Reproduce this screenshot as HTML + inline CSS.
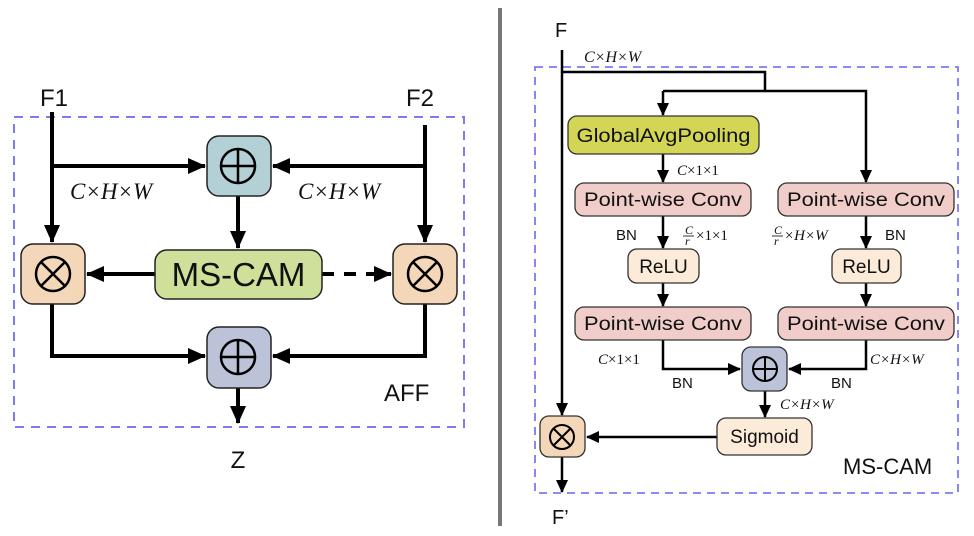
<!DOCTYPE html>
<html><head><meta charset="utf-8"><style>
html,body{margin:0;padding:0;background:#fff}
svg{display:block}
text{font-family:"Liberation Sans","DejaVu Sans",sans-serif;fill:#111}
.m{font-family:"Liberation Serif",serif;font-style:italic}
</style></head><body>
<svg width="974" height="536" viewBox="0 0 974 536" xmlns="http://www.w3.org/2000/svg">
<defs>
<marker id="aL" markerUnits="userSpaceOnUse" markerWidth="20" markerHeight="20" refX="17" refY="10" orient="auto"><path d="M0,2 L18,10 L0,18 z" fill="#000"/></marker>
<marker id="aS" markerUnits="userSpaceOnUse" markerWidth="14" markerHeight="14" refX="12" refY="7" orient="auto"><path d="M0,1 L13,7 L0,13 z" fill="#000"/></marker>
</defs>
<rect x="14" y="117" width="450" height="310" fill="none" stroke="#7b7bf0" stroke-width="2" stroke-dasharray="9,7"/>
<text x="40" y="106" font-size="24">F1</text>
<text x="406" y="106" font-size="24">F2</text>
<g stroke="#000" stroke-width="4" fill="none">
<line x1="52" y1="112" x2="52" y2="242" marker-end="url(#aL)"/>
<line x1="52" y1="166" x2="205" y2="166" marker-end="url(#aL)"/>
<line x1="425" y1="125" x2="425" y2="242" marker-end="url(#aL)"/>
<line x1="425" y1="166" x2="273" y2="166" marker-end="url(#aL)"/>
<line x1="238" y1="196" x2="238" y2="248" marker-end="url(#aL)"/>
<line x1="155" y1="274" x2="87" y2="274" marker-end="url(#aL)"/>
<line x1="322" y1="274" x2="391" y2="274" stroke-dasharray="12,10" marker-end="url(#aL)"/>
<polyline points="52,304 52,356 205,356" marker-end="url(#aL)"/>
<polyline points="425,304 425,356 273,356" marker-end="url(#aL)"/>
<line x1="238" y1="388" x2="238" y2="423" marker-end="url(#aL)"/>
</g>
<rect x="207" y="136" width="64" height="60" rx="12" fill="#b3d0d6" stroke="#222" stroke-width="1.5"/>
<rect x="155" y="250" width="167" height="49" rx="12" fill="#cfe09a" stroke="#222" stroke-width="1.5"/>
<rect x="21" y="244" width="64" height="60" rx="12" fill="#f4d7b8" stroke="#222" stroke-width="1.5"/>
<rect x="393" y="244" width="64" height="60" rx="12" fill="#f4d7b8" stroke="#222" stroke-width="1.5"/>
<rect x="207" y="327" width="64" height="61" rx="12" fill="#bcc2d8" stroke="#222" stroke-width="1.5"/>
<g stroke="#000" stroke-width="2.5" fill="none">
<circle cx="238" cy="166" r="17"/><line x1="221" y1="166" x2="255" y2="166"/><line x1="238" y1="149" x2="238" y2="183"/>
<circle cx="238" cy="357" r="17"/><line x1="221" y1="357" x2="255" y2="357"/><line x1="238" y1="340" x2="238" y2="374"/>
<circle cx="53" cy="274" r="17"/><line x1="41" y1="262" x2="65" y2="286"/><line x1="65" y1="262" x2="41" y2="286"/>
<circle cx="425" cy="274" r="17"/><line x1="413" y1="262" x2="437" y2="286"/><line x1="437" y1="262" x2="413" y2="286"/>
</g>
<text x="238.5" y="286" font-size="33" text-anchor="middle">MS-CAM</text>
<text x="70" y="199" font-size="23" class="m">C×H×W</text>
<text x="298" y="199" font-size="23" class="m">C×H×W</text>
<text x="384" y="401" font-size="24">AFF</text>
<text x="238" y="468" font-size="24" text-anchor="middle">Z</text>
<line x1="500" y1="8" x2="500" y2="526" stroke="#777" stroke-width="4"/>
<rect x="535" y="67" width="423" height="426" fill="none" stroke="#7b7bf0" stroke-width="1.8" stroke-dasharray="8,6"/>
<text x="555" y="37" font-size="20">F</text>
<text x="584" y="62" font-size="16" class="m">C×H×W</text>
<g stroke="#000" stroke-width="2.5" fill="none">
<line x1="562" y1="50" x2="562" y2="415" marker-end="url(#aS)"/>
<polyline points="562,72 765,72 765,91"/>
<polyline points="663,91 866,91 866,182" marker-end="url(#aS)"/>
<line x1="663" y1="154" x2="663" y2="182" marker-end="url(#aS)"/>
<line x1="663" y1="216" x2="663" y2="248" marker-end="url(#aS)"/>
<line x1="866" y1="216" x2="866" y2="248" marker-end="url(#aS)"/>
<line x1="663" y1="283" x2="663" y2="306" marker-end="url(#aS)"/>
<line x1="866" y1="283" x2="866" y2="306" marker-end="url(#aS)"/>
<polyline points="663,340 663,369 740,369" marker-end="url(#aS)"/>
<polyline points="866,340 866,369 789,369" marker-end="url(#aS)"/>
<line x1="765" y1="391" x2="765" y2="417" marker-end="url(#aS)"/>
<line x1="717" y1="437" x2="587" y2="437" marker-end="url(#aS)"/>
<line x1="562" y1="457" x2="562" y2="492" marker-end="url(#aS)"/>
</g>
<line x1="663" y1="91" x2="663" y2="115" stroke="#000" stroke-width="2.5" marker-end="url(#aS)"/>
<rect x="568" y="116" width="191" height="38" rx="9" fill="#d3d655" stroke="#333" stroke-width="1.3"/>
<rect x="575" y="183" width="176" height="33" rx="9" fill="#f0cdc8" stroke="#333" stroke-width="1.3"/>
<rect x="778" y="183" width="176" height="33" rx="9" fill="#f0cdc8" stroke="#333" stroke-width="1.3"/>
<rect x="628" y="249" width="71" height="34" rx="9" fill="#fcebd9" stroke="#333" stroke-width="1.3"/>
<rect x="832" y="249" width="69" height="34" rx="9" fill="#fcebd9" stroke="#333" stroke-width="1.3"/>
<rect x="575" y="307" width="176" height="33" rx="9" fill="#f0cdc8" stroke="#333" stroke-width="1.3"/>
<rect x="778" y="307" width="176" height="33" rx="9" fill="#f0cdc8" stroke="#333" stroke-width="1.3"/>
<rect x="742" y="347" width="45" height="44" rx="9" fill="#bcc2d8" stroke="#333" stroke-width="1.3"/>
<rect x="717" y="418" width="95" height="37" rx="9" fill="#fcebd9" stroke="#333" stroke-width="1.3"/>
<rect x="540" y="416" width="45" height="41" rx="9" fill="#f4d7b8" stroke="#333" stroke-width="1.3"/>
<g stroke="#000" stroke-width="2" fill="none">
<circle cx="765" cy="369" r="12"/><line x1="753" y1="369" x2="777" y2="369"/><line x1="765" y1="357" x2="765" y2="381"/>
<circle cx="562" cy="437" r="12"/><line x1="553.5" y1="428.5" x2="570.5" y2="445.5"/><line x1="570.5" y1="428.5" x2="553.5" y2="445.5"/>
</g>
<g font-size="19" text-anchor="middle">
<text x="663.5" y="142" textLength="174" lengthAdjust="spacingAndGlyphs">GlobalAvgPooling</text>
<text x="663" y="206" textLength="158" lengthAdjust="spacingAndGlyphs">Point-wise Conv</text>
<text x="866" y="206" textLength="158" lengthAdjust="spacingAndGlyphs">Point-wise Conv</text>
<text x="663.5" y="273">ReLU</text>
<text x="866.5" y="273">ReLU</text>
<text x="663" y="330" textLength="158" lengthAdjust="spacingAndGlyphs">Point-wise Conv</text>
<text x="866" y="330" textLength="158" lengthAdjust="spacingAndGlyphs">Point-wise Conv</text>
<text x="764.5" y="443">Sigmoid</text>
</g>
<g font-size="15">
<text x="677" y="175" class="m">C<tspan font-style="normal">×1×1</tspan></text>
<text x="616" y="240">BN</text>
<text x="685" y="234" font-size="12" class="m">C</text><line x1="683" y1="236" x2="694" y2="236" stroke="#000" stroke-width="0.8"/><text x="685" y="245" font-size="12" class="m">r</text>
<text x="696" y="240" class="m"><tspan font-style="normal">×1×1</tspan></text>
<text x="774" y="234" font-size="12" class="m">C</text><line x1="772" y1="236" x2="783" y2="236" stroke="#000" stroke-width="0.8"/><text x="774" y="245" font-size="12" class="m">r</text>
<text x="784" y="240" class="m">×H×W</text>
<text x="885" y="240">BN</text>
<text x="598" y="364" class="m">C<tspan font-style="normal">×1×1</tspan></text>
<text x="672" y="388">BN</text>
<text x="870" y="364" class="m">C×H×W</text>
<text x="831" y="388">BN</text>
<text x="780" y="409" class="m">C×H×W</text>
</g>
<text x="843" y="474" font-size="22">MS-CAM</text>
<text x="552" y="524" font-size="20">F’</text>
</svg>
</body></html>
